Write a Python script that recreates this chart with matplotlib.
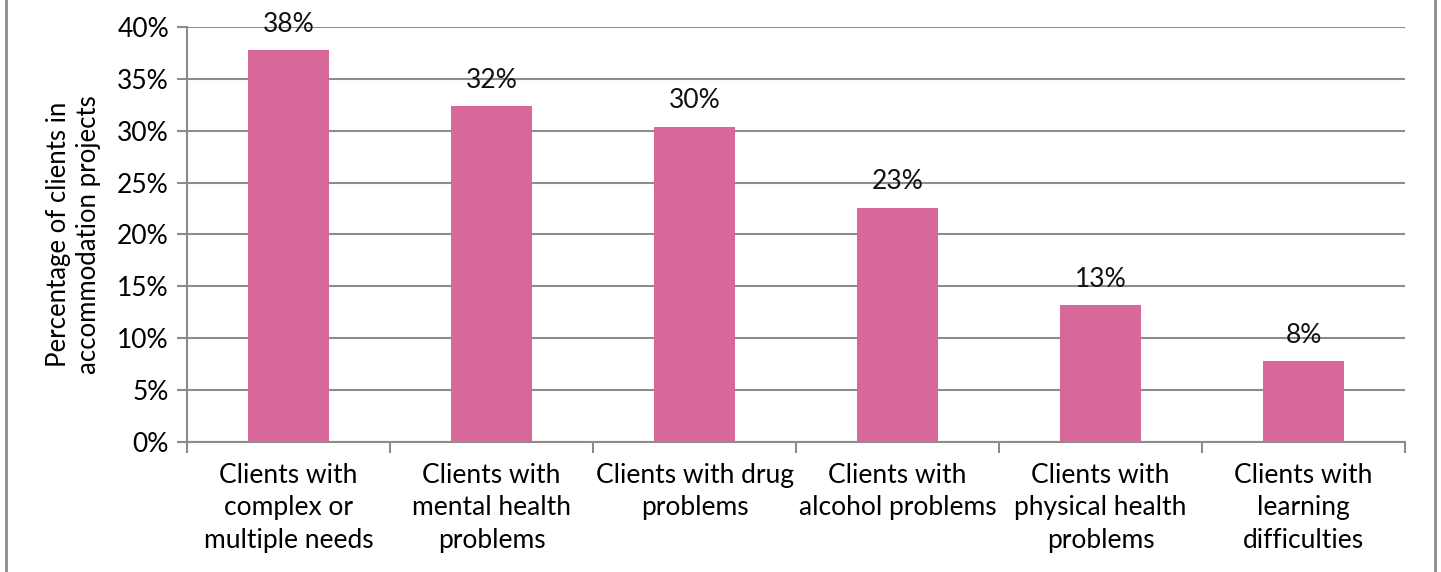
import matplotlib
matplotlib.use("Agg")
import matplotlib.pyplot as plt
from matplotlib.lines import Line2D
from matplotlib.ticker import FuncFormatter

plt.rcParams['font.family'] = ['Lato', 'DejaVu Sans']

# ── Data ─────────────────────────────────────────────────────────────────────
categories = [
    "Clients with\ncomplex or\nmultiple needs",
    "Clients with\nmental health\nproblems",
    "Clients with drug\nproblems",
    "Clients with\nalcohol problems",
    "Clients with\nphysical health\nproblems",
    "Clients with\nlearning\ndifficulties",
]
pct_clients = [37.8, 32.4, 30.4, 22.6, 13.2, 7.8]
y_ticks = [0, 5, 10, 15, 20, 25, 30, 35, 40]

BAR_COLOR = '#D8689A'
GRID_COLOR = '#8C8C8C'
FS = 19

fig = plt.figure(figsize=(14.41, 5.72), dpi=100)
ax = fig.add_axes([0.1298, 0.2273, 0.975 - 0.1298, 0.9528 - 0.2273])

x = list(range(len(categories)))
bars = ax.bar(x, pct_clients, width=0.4, color=BAR_COLOR, zorder=3)

for b, v in zip(bars, pct_clients):
    ax.annotate(f"{v:.0f}%", xy=(b.get_x() + b.get_width() / 2, v),
                xytext=(0, 9.5), textcoords='offset points',
                ha='center', va='bottom', fontsize=FS, color='#111111')

ax.set_xlim(-0.5, len(categories) - 0.5)
ax.set_ylim(0, 40)
ax.set_yticks(y_ticks)
ax.yaxis.set_major_formatter(FuncFormatter(lambda v, _: f"{v:.0f}%"))
ax.grid(axis='y', color=GRID_COLOR, lw=1.5, zorder=0)

# category ticks sit on the boundaries, labels in the middle
ax.set_xticks([i + 0.5 for i in range(-1, len(categories))])
ax.set_xticklabels([])
ax.set_xticks(x, minor=True)
ax.set_xticklabels(categories, minor=True, fontsize=FS, linespacing=1.38)
ax.tick_params(axis='x', which='minor', length=0, pad=15)
ax.tick_params(axis='x', which='major', length=8, width=1.5, color=GRID_COLOR)
ax.tick_params(axis='y', length=7, width=1.5, color=GRID_COLOR, labelsize=FS, pad=6)

for side in ('top', 'right'):
    ax.spines[side].set_visible(False)
for side in ('left', 'bottom'):
    ax.spines[side].set_color(GRID_COLOR)
    ax.spines[side].set_linewidth(1.5)

ax.set_ylabel("Percentage of clients in\naccommodation projects", fontsize=18.5,
              linespacing=1.25, labelpad=12)

# outer chart frame edges
for xf in (6 / 1441, 1435 / 1441):
    fig.add_artist(Line2D([xf, xf], [0, 1], transform=fig.transFigure,
                          color='#8C8C8C', lw=2))

fig.savefig("out.png", dpi=100)
